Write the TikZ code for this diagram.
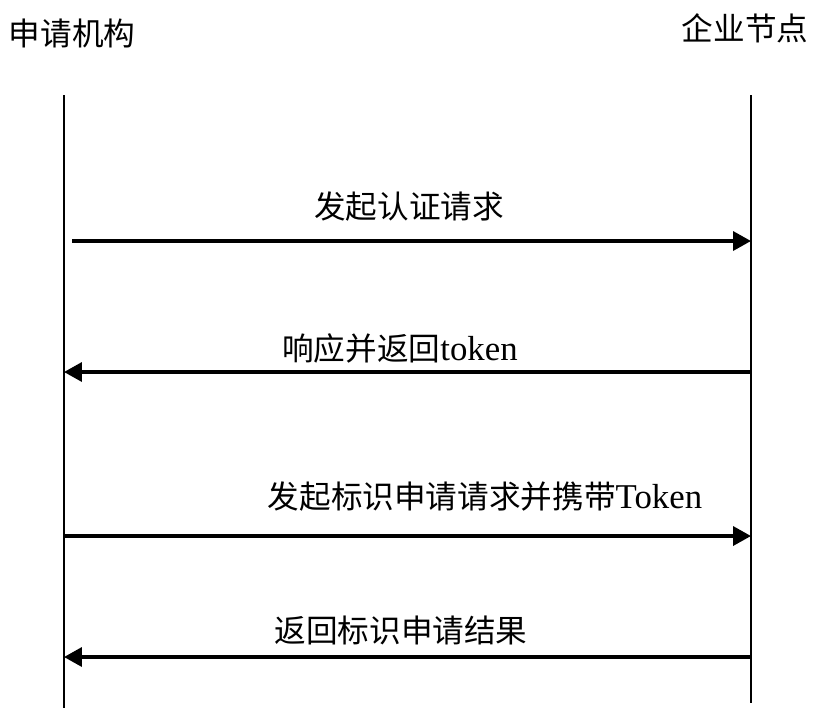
\documentclass[tikz,border=0pt]{standalone}
\usepackage{fontspec}
\newfontfamily\cjk{Noto Sans CJK SC}
\newfontfamily\latserif{Liberation Serif}[Scale=1.1]
\usetikzlibrary{arrows.meta}

\tikzstyle{element}=[inner sep=0, font=\cjk\fontsize{18}{22}\selectfont]
\tikzstyle{lifeline}=[line width=1.6pt]
\tikzstyle{message}=[-{Triangle[length=0.36cm, width=0.38cm]}, line width=2pt]

\begin{document}
\begin{tikzpicture}[x=0.02cm, y=-0.02cm]
  \useasboundingbox (0,0) rectangle (813,708);

  %%%%%%%%%%%%%%%%%%%%%%%%%%%%%%
  % roles
  \node (org) at (72, 33) [element] {申请机构};
  \node (ent) at (745, 28) [element] {企业节点};

  %%%%%%%%%%%%%%%%%%%%%%%%%%%%%%
  % lifelines
  \coordinate (org_top) at (64, 95);
  \coordinate (org_bot) at (64, 708);
  \coordinate (ent_top) at (751, 95);
  \coordinate (ent_bot) at (751, 703);
  \draw [lifeline] (org_top) -- (org_bot);
  \draw [lifeline] (ent_top) -- (ent_bot);

  %%%%%%%%%%%%%%%%%%%%%%%%%%%%%%
  % messages
  \coordinate (auth_l) at (72, 241);
  \coordinate (auth_r) at (751, 241);
  \node (auth) at (409, 207) [element] {发起认证请求};

  \coordinate (tok_l) at (64, 372);
  \coordinate (tok_r) at (751, 372);
  \node (tok) at (400, 348) [element] {响应并返回{\latserif token}};

  \coordinate (apply_l) at (64, 536);
  \coordinate (apply_r) at (751, 536);
  \node (apply) at (485, 497) [element] {发起标识申请请求并携带{\latserif Token}};

  \coordinate (res_l) at (64, 657);
  \coordinate (res_r) at (751, 657);
  \node (res) at (401, 630) [element] {返回标识申请结果};

  %%%%%%%%%%%%%%%%%%%%%%%%%%%%%%
  % links
  \draw [message] (auth_l) -- (auth_r);

  \draw [message] (tok_r) -- (tok_l);

  \draw [message] (apply_l) -- (apply_r);

  \draw [message] (res_r) -- (res_l);

\end{tikzpicture}
\end{document}
